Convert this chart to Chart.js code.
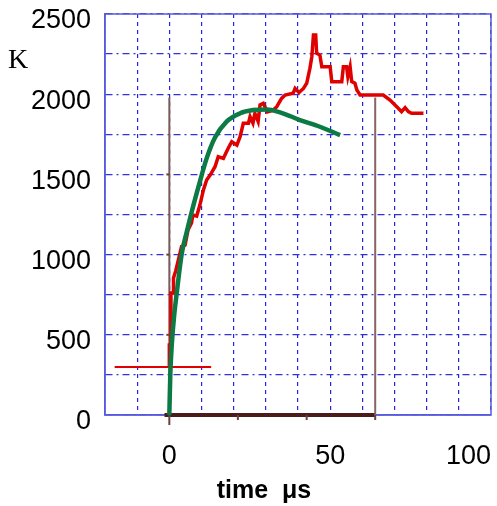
<!DOCTYPE html>
<html>
<head>
<meta charset="utf-8">
<script src="https://cdn.jsdelivr.net/npm/chart.js@4/dist/chart.umd.min.js"></script>
<style>
  body { margin: 0; background: #fff; }
  canvas { display: block; }
</style>
</head>
<body>
<canvas id="myChart" width="497" height="506"></canvas>
<script>
// measured temperature (red steps)
const redTime = [0, 0, 0.5, 0.5, 1.2, 1.3, 2.0, 2.6, 3.2, 3.8, 4.9, 5.8, 6.9, 7.3, 8.5, 9.5, 10.6, 11.6, 12.7, 14.2,
  15.2, 16.8, 18.3, 19.4, 21.0, 22.0, 23.0, 24.6, 25.1, 26.0, 26.6, 27.6, 28.2, 29.2, 30.5, 32.3, 33.4, 34.9, 36.0, 38.5,
  39.1, 40.3, 41.7, 42.7, 43.7, 44.3, 44.8, 45.5, 45.8, 46.8, 47.4, 50.0, 50.5, 53.6, 54.1, 55.1, 55.5, 56.2, 56.7, 57.7,
  58.3, 59.3, 66.5, 68.6, 70.7, 72.2, 73.3, 74.3, 75.3, 79.0];
const redTemp = [300, 436, 436, 760, 760, 854, 900, 950, 1000, 1050, 1060, 1153, 1197, 1247, 1240, 1309, 1403, 1465, 1496, 1548,
  1610, 1600, 1663, 1704, 1683, 1735, 1819, 1819, 1860, 1820, 1880, 1830, 1933, 1943, 1890, 1901, 1922, 1974, 1995, 2006,
  2036, 2010, 2036, 2068, 2161, 2234, 2369, 2369, 2255, 2244, 2171, 2171, 2078, 2078, 2171, 2171, 2110, 2171, 2078, 2068,
  2026, 1995, 1995, 1964, 1922, 1891, 1916, 1891, 1881, 1881];

// fitted curve (green)
const fitTime = [0, 0.3, 0.8, 1.5, 2.3, 3.9, 5.4, 7.0, 9.5, 11.6, 14.2, 17.8, 22.0, 26.1, 30.3, 34.4, 40.6, 46.8, 53.1];
const fitTemp = [0, 250, 450, 620, 760, 1010, 1140, 1270, 1455, 1600, 1730, 1829, 1881, 1901, 1905, 1887, 1839, 1797, 1745];

// initial level (red horizontal)
const levelTime = [-17, 13];
const levelTemp = [300, 300];

// brown marker lines
const markerTime = [0, 64];
const markerTop = 1980;
const baseTime = [-1.5, 64];
const baseTicks = [0, 21.3, 42.7, 64];
const markerLevels = [500, 1000, 1500];

const xTicks = [0, 50, 100];
const yTicks = [0, 500, 1000, 1500, 2000, 2500];

const zip = (xs, ys) => xs.map((x, i) => ({ x: x, y: ys[i] }));
const font = { family: "'Liberation Sans', Arial, sans-serif", size: 27 };

const frame = {
  id: "frame",
  beforeDatasetsDraw(chart) {
    const { ctx, chartArea: a } = chart;
    ctx.save();
    ctx.strokeStyle = "#5a5ae0";
    ctx.lineWidth = 1.5;
    ctx.strokeRect(a.left, a.top, a.right - a.left, a.bottom - a.top);
    ctx.restore();
  },
  afterDraw(chart) {
    const { ctx, chartArea: a, scales } = chart;
    ctx.save();
    // small ticks on the brown axis
    ctx.strokeStyle = "#6a4040";
    ctx.lineWidth = 2;
    baseTicks.forEach((t, i) => {
      const px = scales.x.getPixelForValue(t);
      const len = i === 0 ? 10 : 5;
      ctx.beginPath();
      ctx.moveTo(px, a.bottom);
      ctx.lineTo(px, a.bottom + len);
      ctx.stroke();
    });
    markerLevels.forEach((v) => {
      const py = scales.y.getPixelForValue(v);
      const px = scales.x.getPixelForValue(0);
      ctx.beginPath();
      ctx.moveTo(px - 3, py);
      ctx.lineTo(px, py);
      ctx.stroke();
    });
    // K label and axis title
    ctx.fillStyle = "#000";
    ctx.font = "28px 'Liberation Serif', 'Times New Roman', serif";
    ctx.textAlign = "left";
    ctx.textBaseline = "alphabetic";
    ctx.fillText("K", 8, 68);
    ctx.font = "bold 25px 'Liberation Sans', Arial, sans-serif";
    ctx.textAlign = "center";
    ctx.fillText("time  μs", 264, 498);
    ctx.restore();
  },
};

new Chart(document.getElementById("myChart").getContext("2d"), {
  type: "line",
  data: {
    datasets: [
      {
        data: zip(fitTime, fitTemp),
        borderColor: "#0b7a45",
        borderWidth: 4.5,
        pointRadius: 0,
        cubicInterpolationMode: "monotone",
        order: 0,
      },
      {
        data: zip(redTime, redTemp),
        borderColor: "#e00000",
        borderWidth: 3.5,
        pointRadius: 0,
        order: 1,
      },
      {
        data: zip(levelTime, levelTemp),
        borderColor: "#e00000",
        borderWidth: 2,
        pointRadius: 0,
        order: 2,
      },
      {
        data: zip([markerTime[0], markerTime[0]], [0, markerTop]),
        borderColor: "#7d5a5a",
        borderWidth: 2,
        pointRadius: 0,
        order: 3,
      },
      {
        data: zip([markerTime[1], markerTime[1]], [0, markerTop]),
        borderColor: "#8a6464",
        borderWidth: 2,
        pointRadius: 0,
        order: 3,
      },
      {
        data: zip(baseTime, [0, 0]),
        borderColor: "#4b1c1c",
        borderWidth: 4,
        pointRadius: 0,
        clip: false,
        order: 4,
      },
    ],
  },
  options: {
    responsive: false,
    animation: false,
    layout: { padding: { top: 14, right: 6, left: 0, bottom: 0 } },
    plugins: { legend: { display: false }, tooltip: { enabled: false } },
    scales: {
      x: {
        type: "linear",
        min: -20,
        max: 100,
        ticks: {
          stepSize: 10,
          autoSkip: false,
          maxRotation: 0,
          align: "inner",
          padding: 25,
          color: "#000",
          font: font,
          callback: (v) => (xTicks.includes(v) ? v : ""),
        },
        grid: { drawTicks: false, color: "#2525d5", lineWidth: 1.2 },
        border: { color: "#5a5ae0", width: 1.5, dash: [4, 4] },
        afterFit: (s) => {
          s.height = 91;
          s.paddingLeft = 0;
          s.paddingRight = 0;
        },
      },
      y: {
        min: 0,
        max: 2500,
        ticks: {
          stepSize: 250,
          autoSkip: false,
          padding: 14,
          labelOffset: 7,
          color: "#000",
          font: font,
          callback: (v) => (yTicks.includes(v) ? v : ""),
        },
        grid: { drawTicks: false, color: "#3030e0", lineWidth: 1.2 },
        border: { color: "#5a5ae0", width: 1.5, dash: [7, 4, 2, 4] },
        afterFit: (s) => {
          s.width = 105;
          s.paddingTop = 0;
          s.paddingBottom = 0;
        },
      },
    },
  },
  plugins: [frame],
});
</script>
</body>
</html>
